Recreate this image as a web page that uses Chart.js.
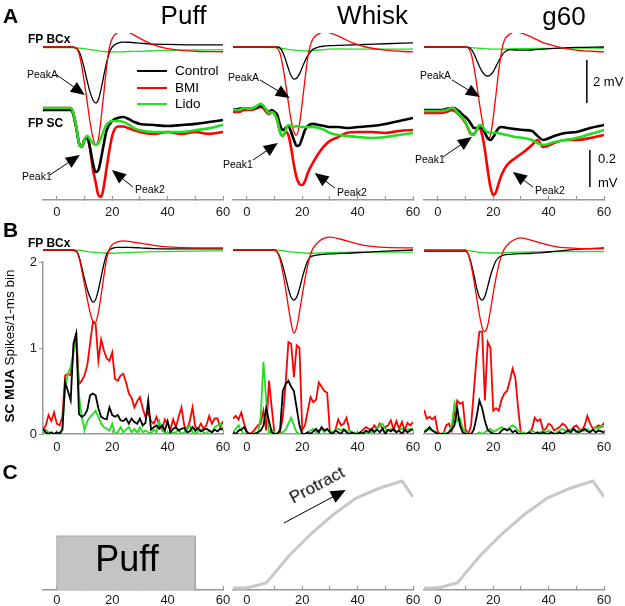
<!DOCTYPE html>
<html>
<head>
<meta charset="utf-8">
<script src="https://cdn.jsdelivr.net/npm/chart.js@4.4.1/dist/chart.umd.min.js"></script>
<style>
html, body { margin: 0; padding: 0; background: #fff; }
#fig { position: relative; width: 625px; height: 606px; overflow: hidden; font-family: Arial, "Liberation Sans", sans-serif; color: #000; }
#fig canvas { position: absolute; left: 0; top: 0; }
.t { position: absolute; white-space: nowrap; line-height: 1; }
.c { transform: translate(-50%, -50%); }
.l { transform: translateY(-50%); }
.b { font-weight: bold; }
.key { position: absolute; width: 30px; height: 2px; }
</style>
</head>
<body>
<div id="fig">
  <canvas id="a0" width="625" height="620"></canvas>
  <canvas id="a1" width="625" height="620"></canvas>
  <canvas id="a2" width="625" height="620"></canvas>
  <canvas id="b0" width="625" height="620"></canvas>
  <canvas id="b1" width="625" height="620"></canvas>
  <canvas id="b2" width="625" height="620"></canvas>
  <canvas id="c0" width="625" height="620"></canvas>
  <canvas id="c1" width="625" height="620"></canvas>
  <canvas id="c2" width="625" height="620"></canvas>

  <div class="t c b" style="left:10.5px;top:14.5px;font-size:21px">A</div>
  <div class="t c b" style="left:10.5px;top:228.5px;font-size:21px">B</div>
  <div class="t c b" style="left:10px;top:470.5px;font-size:21px">C</div>

  <div class="t c" style="left:183.5px;top:14.5px;font-size:26px">Puff</div>
  <div class="t c" style="left:372.5px;top:14.5px;font-size:26px">Whisk</div>
  <div class="t c" style="left:564px;top:16px;font-size:26px">g60</div>

  <div class="t l b" style="left:28px;top:39px;font-size:12px">FP BCx</div>
  <div class="t l b" style="left:28px;top:122.5px;font-size:12px">FP SC</div>
  <div class="t l b" style="left:28px;top:242.5px;font-size:12px">FP BCx</div>

  <div class="key" style="left:137px;top:70px;background:#000"></div>
  <div class="key" style="left:137px;top:86.5px;background:#ff0000"></div>
  <div class="key" style="left:137px;top:103px;background:#22dd22"></div>
  <div class="t l" style="left:175px;top:71px;font-size:13.5px">Control</div>
  <div class="t l" style="left:175px;top:87.5px;font-size:13.5px">BMI</div>
  <div class="t l" style="left:175px;top:104px;font-size:13.5px">Lido</div>

  <div class="t l" style="left:27px;top:73.5px;font-size:10.5px">PeakA</div>
  <div class="t l" style="left:228px;top:76.5px;font-size:10.5px">PeakA</div>
  <div class="t l" style="left:420px;top:75px;font-size:10.5px">PeakA</div>
  <div class="t l" style="left:22px;top:175.5px;font-size:10.5px">Peak1</div>
  <div class="t l" style="left:223px;top:163.5px;font-size:10.5px">Peak1</div>
  <div class="t l" style="left:415px;top:158.5px;font-size:10.5px">Peak1</div>
  <div class="t l" style="left:135px;top:188.5px;font-size:10.5px">Peak2</div>
  <div class="t l" style="left:337px;top:191.5px;font-size:10.5px">Peak2</div>
  <div class="t l" style="left:535px;top:190px;font-size:10.5px">Peak2</div>

  <div class="t l" style="left:593px;top:81px;font-size:13px">2 mV</div>
  <div class="t l" style="left:598px;top:157.5px;font-size:13px">0.2</div>
  <div class="t l" style="left:598px;top:182px;font-size:13px">mV</div>

  <div class="t" style="left:10px;top:346px;font-size:13.5px;transform:translate(-50%,-50%) rotate(-90deg)"><b>SC MUA</b> Spikes/1-ms bin</div>

  <div class="t c" style="left:127px;top:559px;font-size:36px">Puff</div>
  <div class="t" style="left:317px;top:485px;font-size:17px;transform:translate(-50%,-50%) rotate(-28deg)">Protract</div>
</div>

<script>
const FONT = 'Arial, "Liberation Sans", sans-serif';
const CTRL = '#000000', BMI = '#ff0000', LIDO = '#22dd22';

const xTicks = [0, 10, 20, 30, 40, 50, 60];
const xTickLabels = [0, 20, 40, 60];
const muaTicks = [0, 1, 2];

// A: FP BCx (mV, thin traces)
const puffBcxT = [-5, 0, 5, 7, 8, 9, 10, 11, 12, 13, 14, 15, 16, 17, 18, 19, 20, 22, 24, 26, 30, 35, 40, 50, 60];
const puffBcxCtrl = [0, 0, 0, -0.05, -0.2, -0.55, -1.05, -1.6, -2.1, -2.45, -2.6, -2.45, -1.95, -1.3, -0.7, -0.25, 0, 0.18, 0.23, 0.22, 0.18, 0.13, 0.12, 0.1, 0.1];
const puffBcxBmi = [0, 0, 0, -0.05, -0.3, -0.9, -1.7, -2.6, -3.5, -4.2, -4.55, -4.3, -3.3, -2.1, -0.9, 0, 0.4, 0.68, 0.74, 0.68, 0.4, 0.1, -0.08, -0.2, -0.22];
const puffBcxLido = [-0.03, -0.03, -0.03, -0.04, -0.05, -0.06, -0.08, -0.1, -0.12, -0.14, -0.16, -0.18, -0.2, -0.21, -0.22, -0.23, -0.23, -0.23, -0.22, -0.21, -0.2, -0.18, -0.16, -0.14, -0.12];

const whiskBcxT = [-5, 0, 5, 10, 11, 12, 13, 14, 15, 16, 17, 18, 19, 20, 21, 22, 23, 24, 26, 28, 30, 34, 38, 43, 50, 60];
const whiskBcxCtrl = [0, 0, 0, 0, 0, -0.05, -0.25, -0.6, -1.0, -1.35, -1.49, -1.45, -1.25, -0.95, -0.65, -0.4, -0.22, -0.1, 0, 0.04, 0.06, 0.08, 0.1, 0.12, 0.15, 0.19];
const whiskBcxBmi = [0, 0, 0, 0, -0.05, -0.3, -0.9, -1.7, -2.6, -3.4, -3.95, -4.1, -3.6, -2.6, -1.5, -0.5, 0.1, 0.4, 0.62, 0.7, 0.66, 0.45, 0.2, 0, -0.15, -0.23];
const whiskBcxLido = [-0.02, -0.02, -0.02, -0.03, -0.04, -0.05, -0.07, -0.09, -0.11, -0.13, -0.15, -0.16, -0.17, -0.18, -0.18, -0.18, -0.17, -0.16, -0.14, -0.12, -0.1, -0.09, -0.1, -0.1, -0.1, -0.1];

const g60BcxT = [-5, 0, 5, 10, 11, 12, 13, 14, 15, 16, 17, 18, 19, 20, 21, 22, 23, 24, 26, 28, 30, 34, 38, 42, 50, 60];
const g60BcxCtrl = [0, 0, 0, 0, -0.02, -0.1, -0.3, -0.6, -0.9, -1.15, -1.3, -1.35, -1.3, -1.15, -0.9, -0.65, -0.42, -0.25, -0.12, -0.14, -0.15, -0.14, -0.1, -0.06, -0.02, 0];
const g60BcxBmi = [0, 0, 0, 0, -0.05, -0.3, -0.9, -1.7, -2.6, -3.4, -4.0, -4.3, -4.1, -3.3, -2.2, -1.1, -0.2, 0.3, 0.6, 0.7, 0.66, 0.45, 0.2, 0.05, -0.15, -0.23];
const g60BcxLido = [0, 0, 0, -0.01, -0.02, -0.03, -0.04, -0.05, -0.06, -0.07, -0.08, -0.09, -0.1, -0.1, -0.1, -0.1, -0.1, -0.1, -0.09, -0.08, -0.08, -0.07, -0.06, -0.06, -0.05, -0.05];

// A: FP SC (mV, thick traces)
const puffScT = [-5, 0, 3, 5, 6, 7, 8, 9, 10, 11, 12, 13, 14, 15, 16, 17, 18, 20, 22, 24, 26, 28, 30, 35, 40, 45, 50, 55, 60];
const puffScCtrl = [-0.011, -0.011, -0.011, -0.011, -0.038, -0.108, -0.19, -0.21, -0.173, -0.162, -0.216, -0.297, -0.346, -0.335, -0.27, -0.19, -0.119, -0.07, -0.054, -0.049, -0.06, -0.076, -0.086, -0.092, -0.097, -0.092, -0.086, -0.076, -0.065];
const puffScBmi = [0, 0, 0, 0, -0.03, -0.1, -0.19, -0.21, -0.17, -0.16, -0.22, -0.33, -0.4, -0.47, -0.48, -0.42, -0.32, -0.15, -0.1, -0.1, -0.11, -0.12, -0.13, -0.14, -0.13, -0.14, -0.13, -0.14, -0.13];
const puffScLido = [0, 0, 0, 0, -0.03, -0.1, -0.19, -0.21, -0.17, -0.15, -0.17, -0.19, -0.2, -0.19, -0.16, -0.12, -0.09, -0.07, -0.07, -0.075, -0.09, -0.11, -0.12, -0.13, -0.13, -0.13, -0.12, -0.11, -0.09];

const whiskScT = [-5, -3, -1, 1, 3, 5, 6, 7, 8, 9, 10, 11, 12, 13, 14, 15, 16, 17, 18, 19, 20, 21, 22, 24, 26, 28, 30, 33, 36, 40, 45, 50, 55, 60];
const whiskScCtrl = [-0.011, -0.005, 0, -0.005, 0, 0.011, 0.005, -0.011, -0.022, -0.011, -0.022, -0.038, -0.092, -0.119, -0.108, -0.097, -0.13, -0.173, -0.205, -0.2, -0.162, -0.119, -0.097, -0.086, -0.092, -0.097, -0.103, -0.103, -0.108, -0.103, -0.097, -0.086, -0.07, -0.054];
const whiskScBmi = [-0.022, -0.022, -0.011, -0.011, -0.005, 0.005, 0, -0.022, -0.032, -0.022, -0.032, -0.065, -0.13, -0.151, -0.13, -0.146, -0.216, -0.308, -0.378, -0.411, -0.416, -0.395, -0.351, -0.292, -0.243, -0.205, -0.178, -0.157, -0.135, -0.13, -0.13, -0.135, -0.124, -0.119];
const whiskScLido = [-0.011, -0.011, 0, -0.005, 0.005, 0.022, 0.011, -0.011, -0.027, -0.022, -0.032, -0.065, -0.13, -0.151, -0.119, -0.092, -0.097, -0.103, -0.097, -0.103, -0.103, -0.103, -0.103, -0.103, -0.108, -0.119, -0.135, -0.146, -0.151, -0.157, -0.162, -0.157, -0.146, -0.135];

const g60ScT = [-5, -2, 1, 3, 5, 6, 7, 8, 9, 10, 11, 12, 13, 14, 15, 16, 17, 18, 19, 20, 21, 22, 23, 25, 28, 31, 34, 36, 38, 42, 46, 50, 55, 60];
const g60ScCtrl = [-0.011, -0.011, -0.011, -0.005, 0, 0, -0.011, -0.022, -0.038, -0.049, -0.065, -0.086, -0.108, -0.108, -0.103, -0.108, -0.135, -0.162, -0.173, -0.157, -0.13, -0.108, -0.103, -0.108, -0.114, -0.119, -0.124, -0.151, -0.173, -0.151, -0.135, -0.13, -0.108, -0.092];
const g60ScBmi = [-0.027, -0.027, -0.027, -0.022, -0.011, -0.016, -0.027, -0.043, -0.059, -0.081, -0.114, -0.141, -0.141, -0.119, -0.108, -0.146, -0.227, -0.335, -0.427, -0.47, -0.454, -0.405, -0.362, -0.308, -0.27, -0.238, -0.2, -0.173, -0.211, -0.189, -0.173, -0.173, -0.162, -0.146];
const g60ScLido = [-0.016, -0.016, -0.016, -0.011, 0, -0.005, -0.022, -0.038, -0.054, -0.076, -0.108, -0.141, -0.146, -0.119, -0.092, -0.097, -0.119, -0.13, -0.135, -0.135, -0.135, -0.135, -0.141, -0.146, -0.157, -0.162, -0.173, -0.189, -0.2, -0.184, -0.173, -0.162, -0.141, -0.119];

// B: FP BCx overlay (mV)
const puffOvT = [-5, 0, 5, 7, 8, 9, 10, 11, 12, 13, 14, 15, 16, 17, 18, 19, 20, 22, 24, 26, 30, 35, 40, 50, 60];
const puffOvCtrl = [0, 0, 0, -0.05, -0.3, -0.8, -1.35, -1.85, -2.2, -2.42, -2.3, -1.85, -1.25, -0.65, -0.2, 0, 0.08, 0.12, 0.12, 0.12, 0.1, 0.06, 0.05, 0.05, 0.05];
const puffOvBmi = [0, 0, 0, -0.05, -0.35, -0.95, -1.6, -2.3, -2.9, -3.3, -3.35, -2.9, -2.1, -1.2, -0.4, 0.05, 0.25, 0.38, 0.42, 0.4, 0.32, 0.22, 0.15, 0.1, 0.1];
const puffOvLido = [0, 0, 0, -0.01, -0.02, -0.03, -0.05, -0.07, -0.09, -0.1, -0.11, -0.12, -0.13, -0.14, -0.14, -0.15, -0.15, -0.14, -0.13, -0.12, -0.1, -0.08, -0.07, -0.05, -0.04];

const whiskOvT = [-5, 0, 5, 10, 11, 12, 13, 14, 15, 16, 17, 18, 19, 20, 21, 22, 23, 24, 26, 28, 30, 34, 38, 43, 50, 60];
const whiskOvCtrl = [0, 0, 0, 0, -0.1, -0.35, -0.75, -1.25, -1.8, -2.2, -2.33, -2.2, -1.8, -1.3, -0.85, -0.5, -0.33, -0.27, -0.22, -0.2, -0.18, -0.16, -0.14, -0.1, -0.05, 0];
const whiskOvBmi = [0, 0, 0, 0, -0.1, -0.45, -1.05, -1.8, -2.65, -3.4, -3.86, -3.6, -2.9, -2.1, -1.35, -0.7, -0.2, 0.1, 0.4, 0.55, 0.6, 0.5, 0.35, 0.2, 0.12, 0.1];
const whiskOvLido = [0, 0, 0, 0, -0.01, -0.02, -0.03, -0.05, -0.07, -0.09, -0.1, -0.11, -0.12, -0.13, -0.14, -0.15, -0.15, -0.15, -0.14, -0.13, -0.12, -0.11, -0.1, -0.1, -0.1, -0.1];

const g60OvT = [-5, 0, 5, 10, 11, 12, 13, 14, 15, 16, 17, 18, 19, 20, 21, 22, 23, 24, 26, 28, 30, 34, 38, 43, 50, 60];
const g60OvCtrl = [-0.05, -0.05, -0.05, -0.05, -0.2, -0.6, -1.15, -1.75, -2.2, -2.33, -2.15, -1.7, -1.2, -0.8, -0.5, -0.35, -0.27, -0.23, -0.2, -0.18, -0.17, -0.15, -0.12, -0.05, 0.03, 0.1];
const g60OvBmi = [0, 0, 0, 0, -0.2, -0.7, -1.4, -2.2, -3.0, -3.6, -3.8, -3.5, -2.8, -2.0, -1.3, -0.7, -0.25, 0.05, 0.35, 0.5, 0.56, 0.45, 0.3, 0.15, 0.08, 0.05];
const g60OvLido = [-0.02, -0.02, -0.02, -0.02, -0.03, -0.05, -0.07, -0.09, -0.11, -0.12, -0.13, -0.14, -0.14, -0.14, -0.14, -0.14, -0.13, -0.12, -0.11, -0.1, -0.1, -0.09, -0.08, -0.08, -0.08, -0.08];

// B: SC MUA, spikes per 1-ms bin
const binT = [-5, -4, -3, -2, -1, 0, 1, 2, 3, 4, 5, 6, 7, 8, 9, 10, 11, 12, 13, 14, 15, 16, 17, 18, 19, 20, 21, 22, 23, 24, 25, 26, 27, 28, 29, 30, 31, 32, 33, 34, 35, 36, 37, 38, 39, 40, 41, 42, 43, 44, 45, 46, 47, 48, 49, 50, 51, 52, 53, 54, 55, 56, 57, 58, 59, 60];
const puffMuaCtrl = [0.06, 0.02, 0, 0.02, 0, 0.02, 0, 0.05, 0.6, 0.5, 0.39, 1.05, 1.17, 0.23, 0.2, 0.22, 0.28, 0.45, 0.47, 0.45, 0.3, 0.2, 0.18, 0.17, 0.31, 0.22, 0.2, 0.22, 0.16, 0.15, 0.18, 0.12, 0.18, 0.14, 0.12, 0.18, 0.1, 0.13, 0.39, 0.05, 0.08, 0.1, 0.06, 0.1, 0.04, 0.15, 0.02, 0.06, 0.08, 0.04, 0.06, 0.07, 0.02, 0.03, 0.08, 0.04, 0.07, 0.03, 0.05, 0.06, 0.04, 0.02, 0.05, 0.03, 0.06, 0.05];
const puffMuaBmi = [0.05, 0.1, 0.22, 0.15, 0.25, 0.12, 0.1, 0.2, 0.68, 0.7, 0.68, 0.95, 1.17, 0.58, 0.62, 0.68, 0.8, 1.05, 1.3, 1.28, 0.85, 1.1, 0.97, 0.88, 0.85, 0.95, 0.64, 0.62, 0.68, 0.7, 0.6, 0.47, 0.42, 0.31, 0.38, 0.43, 0.3, 0.2, 0.25, 0.15, 0.12, 0.2, 0.1, 0.05, 0.17, 0.12, 0.05, 0.17, 0.08, 0.2, 0.31, 0.1, 0.05, 0.15, 0.31, 0.08, 0.06, 0.12, 0.06, 0.1, 0.21, 0.12, 0.18, 0.18, 0.08, 0.15];
const puffMuaLido = [0, 0.05, 0.02, 0, 0, 0, 0.02, 0.05, 0.55, 0.7, 0.78, 0.95, 1.1, 0.45, 0.2, 0.05, 0.15, 0.2, 0.23, 0.27, 0.2, 0.12, 0.08, 0.06, 0.04, 0.12, 0, 0.02, 0.08, 0.02, 0.05, 0.08, 0.02, 0.06, 0.02, 0.08, 0.02, 0.04, 0.02, 0.01, 0.05, 0.02, 0.15, 0.04, 0.02, 0, 0.03, 0.01, 0.02, 0.05, 0, 0.02, 0.06, 0.1, 0.02, 0, 0.03, 0.05, 0.02, 0, 0.04, 0.02, 0.08, 0.1, 0.12, 0.05];

const whiskMuaCtrl = [0.02, 0, 0.04, 0.05, 0.08, 0.02, 0, 0, 0, 0.02, 0.04, 0.1, 0.3, 0.15, 0.02, 0, 0, 0.05, 0.5, 0.58, 0.62, 0.55, 0.5, 0.3, 0.1, 0, 0, 0.02, 0, 0.03, 0.06, 0.02, 0.08, 0.04, 0.06, 0.02, 0, 0.04, 0.02, 0, 0.05, 0.02, 0, 0.02, 0, 0, 0.02, 0, 0.04, 0.02, 0.06, 0.02, 0.05, 0.02, 0.06, 0, 0.05, 0.03, 0.06, 0.02, 0.04, 0, 0.05, 0.02, 0.04, 0.06];
const whiskMuaBmi = [0.18, 0.21, 0.17, 0.25, 0.12, 0.03, 0, 0.02, 0.06, 0.1, 0.12, 0.27, 0.04, 0.62, 0.3, 0, 0, 0.02, 0.2, 0.58, 1.07, 1.05, 0.66, 1.03, 1.0, 0.05, 0.1, 0.27, 0.43, 0.37, 0.4, 0.6, 0.55, 0.5, 0.48, 0.02, 0, 0.05, 0.17, 0.1, 0.12, 0.19, 0.05, 0, 0, 0, 0.02, 0.05, 0.08, 0.06, 0.04, 0.1, 0.06, 0.12, 0.06, 0.08, 0.1, 0.16, 0.05, 0.15, 0.06, 0.14, 0.04, 0.13, 0.1, 0.14];
const whiskMuaLido = [0.02, 0.06, 0.1, 0.04, 0, 0, 0, 0, 0.02, 0, 0.2, 0.84, 0.39, 0, 0.05, 0.02, 0, 0, 0.02, 0.05, 0.12, 0.19, 0.1, 0.02, 0, 0, 0, 0.02, 0.04, 0.06, 0.02, 0.04, 0.06, 0.02, 0.05, 0.04, 0.02, 0.05, 0.06, 0.04, 0.06, 0.03, 0.05, 0, 0.02, 0, 0, 0.02, 0, 0.03, 0.02, 0.04, 0.06, 0.1, 0.12, 0.06, 0.04, 0.06, 0.04, 0.02, 0.05, 0.06, 0.04, 0.05, 0.06, 0.04];

const g60MuaCtrl = [0.02, 0.04, 0.08, 0.04, 0.02, 0, 0, 0, 0, 0.02, 0.05, 0.1, 0.3, 0.1, 0.02, 0, 0, 0, 0.05, 0.2, 0.39, 0.3, 0.15, 0.05, 0.02, 0, 0, 0, 0.04, 0.06, 0.04, 0.06, 0.02, 0.04, 0, 0, 0, 0, 0.02, 0, 0, 0.02, 0, 0.02, 0, 0, 0.02, 0, 0, 0.02, 0, 0.02, 0.04, 0.02, 0.06, 0.03, 0.02, 0.04, 0.06, 0.03, 0.02, 0.05, 0.02, 0.04, 0.03, 0.02];
const g60MuaBmi = [0.28, 0.18, 0.2, 0.17, 0.2, 0.02, 0, 0, 0.1, 0.12, 0.04, 0.25, 0.39, 0.35, 0.37, 0.05, 0, 0.1, 0.5, 0.9, 1.19, 1.19, 0.39, 1.07, 1.0, 0.27, 0.3, 0.27, 0.4, 0.47, 0.5, 0.62, 0.76, 0.65, 0.3, 0, 0, 0, 0.02, 0.06, 0.19, 0.15, 0.17, 0.04, 0.06, 0.12, 0.1, 0.04, 0.06, 0.08, 0.12, 0.1, 0.05, 0.04, 0.08, 0.1, 0.06, 0.04, 0.1, 0.21, 0.12, 0.06, 0.08, 0.1, 0.08, 0.13];
const g60MuaLido = [0.03, 0.06, 0.05, 0.04, 0.03, 0, 0, 0.02, 0, 0.02, 0.1, 0.35, 0.15, 0.18, 0.06, 0.02, 0, 0, 0, 0, 0.02, 0, 0.02, 0.04, 0.06, 0.02, 0.04, 0.06, 0.08, 0.06, 0.05, 0.08, 0.1, 0.08, 0.04, 0.02, 0.02, 0, 0.02, 0.04, 0.02, 0, 0.02, 0.04, 0.02, 0.04, 0.02, 0, 0.02, 0.04, 0.06, 0.04, 0.02, 0.04, 0.06, 0.02, 0.05, 0.03, 0.04, 0.06, 0.03, 0.05, 0.08, 0.06, 0.1, 0.08];

// C: stimulus
const puffBoxT = [0, 0, 50, 50];
const puffBoxLevel = [0, 54, 54, 0];
const whiskPosT = [-5, 0, 7, 15.5, 23.5, 31, 39.5, 48, 56, 60];
const whiskPos = [2, 2, 7, 35, 57, 75, 92, 102, 109, 93];

// scale bars (g60 panel of A)
const barBcxT = [53.8, 53.8], barBcx = [-0.6, -2.6];
const barScT = [54.9, 54.9], barSc = [-0.227, -0.427];

// annotation arrows, [t, BCx mV] for A and [t, position] for C
const peakArrows = [
  [{ from: [0, -1.3], to: [10.1, -2.23] }, { from: [-2.5, -5.95], to: [8.3, -5.02] }, { from: [27.4, -6.51], to: [19.9, -5.72] }],
  [{ from: [4.7, -1.53], to: [15.5, -2.37] }, { from: [2.2, -5.26], to: [11.2, -4.47] }, { from: [31.8, -6.56], to: [24.5, -5.86] }],
  [{ from: [5.1, -1.53], to: [15.2, -2.33] }, { from: [1.8, -5.12], to: [12.3, -4.19] }, { from: [34.3, -6.51], to: [27.1, -5.81] }]
];
const protractArrow = [{ from: [13.4, 67], to: [35.7, 100] }];

const cols = [{ left: 43, right: 402 }, { left: 233, right: 212 }, { left: 424, right: 21 }];

const arrowPlugin = {
  id: 'arrows',
  afterDatasetsDraw(chart, args, opts) {
    const items = opts.items || [];
    if (!items.length) return;
    const ctx = chart.ctx, xs = chart.scales.x, ys = chart.scales[opts.axis];
    items.forEach(a => {
      const x1 = xs.getPixelForValue(a.from[0]), y1 = ys.getPixelForValue(a.from[1]);
      const x2 = xs.getPixelForValue(a.to[0]), y2 = ys.getPixelForValue(a.to[1]);
      const ang = Math.atan2(y2 - y1, x2 - x1), L = opts.head, W = opts.half;
      const c = Math.cos(ang), s = Math.sin(ang);
      ctx.save();
      ctx.strokeStyle = '#000'; ctx.fillStyle = '#000'; ctx.lineWidth = 1;
      ctx.beginPath(); ctx.moveTo(x1, y1); ctx.lineTo(x2 - L * 0.8 * c, y2 - L * 0.8 * s); ctx.stroke();
      ctx.beginPath();
      ctx.moveTo(x2, y2);
      ctx.lineTo(x2 - L * c + W * s, y2 - L * s - W * c);
      ctx.lineTo(x2 - L * c - W * s, y2 - L * s + W * c);
      ctx.closePath(); ctx.fill();
      ctx.restore();
    });
  }
};

const pts = (t, v) => t.map((x, i) => ({ x, y: v[i] }));

function trace(t, v, color, width, axis, extra) {
  return Object.assign({
    data: pts(t, v), borderColor: color, borderWidth: width, pointRadius: 0,
    fill: false, yAxisID: axis, cubicInterpolationMode: 'monotone'
  }, extra || {});
}

function xScale(pad) {
  return {
    type: 'linear', min: -5, max: 60,
    afterBuildTicks: s => { s.ticks = xTicks.map(v => ({ value: v })); },
    afterFit: s => { s.height = 22; },
    ticks: {
      autoSkip: false, maxRotation: 0, padding: pad, color: '#1a1a1a',
      font: { size: 13, family: FONT },
      callback: v => xTickLabels.includes(v) ? String(v) : ''
    },
    grid: { drawOnChartArea: false, tickLength: -4, color: '#999', tickWidth: 1.2 },
    border: { color: '#999', width: 1.5 }
  };
}

const hidden = (min, max) => ({ display: false, min, max });

function panel(id, padding, scales, datasets, arrows) {
  new Chart(document.getElementById(id), {
    type: 'line',
    data: { datasets },
    options: {
      responsive: false, animation: false, events: [], devicePixelRatio: 1,
      layout: { autoPadding: false, padding },
      scales,
      plugins: { legend: { display: false }, tooltip: { enabled: false }, arrows: arrows || { items: [] } }
    },
    plugins: [arrowPlugin]
  });
}

// row A
const bcxSets = [[puffBcxT, puffBcxCtrl, puffBcxBmi, puffBcxLido], [whiskBcxT, whiskBcxCtrl, whiskBcxBmi, whiskBcxLido], [g60BcxT, g60BcxCtrl, g60BcxBmi, g60BcxLido]];
const scSets = [[puffScT, puffScCtrl, puffScBmi, puffScLido], [whiskScT, whiskScCtrl, whiskScBmi, whiskScLido], [g60ScT, g60ScCtrl, g60ScBmi, g60ScLido]];
['a0', 'a1', 'a2'].forEach((id, i) => {
  const [bt, bc, bb, bl] = bcxSets[i];
  const [st, sc, sb, sl] = scSets[i];
  const ds = [
    trace(st, sl, LIDO, 2.6, 'ys'),
    trace(st, sc, CTRL, 2.6, 'ys'),
    trace(st, sb, BMI, 2.6, 'ys'),
    trace(bt, bb, BMI, 1.3, 'yb'),
    trace(bt, bc, CTRL, 1.3, 'yb'),
    trace(bt, bl, LIDO, 1.3, 'yb')
  ];
  if (i === 2) {
    ds.push(trace(barBcxT, barBcx, '#000', 1.5, 'yb'));
    ds.push(trace(barScT, barSc, '#000', 1.5, 'ys'));
  }
  panel(id, { left: cols[i].left, right: cols[i].right, top: 33, bottom: 398 },
    { x: xScale(8.5), yb: hidden(-7.116, 0.651), ys: hidden(-0.497, 0.405) },
    ds, { axis: 'yb', head: 14, half: 6, items: peakArrows[i] });
});

// row B
const ovSets = [[puffOvT, puffOvCtrl, puffOvBmi, puffOvLido], [whiskOvT, whiskOvCtrl, whiskOvBmi, whiskOvLido], [g60OvT, g60OvCtrl, g60OvBmi, g60OvLido]];
const muaSets = [[puffMuaCtrl, puffMuaBmi, puffMuaLido], [whiskMuaCtrl, whiskMuaBmi, whiskMuaLido], [g60MuaCtrl, g60MuaBmi, g60MuaLido]];
['b0', 'b1', 'b2'].forEach((id, i) => {
  const [ot, oc, ob, ol] = ovSets[i];
  const [mc, mb, ml] = muaSets[i];
  const jag = { cubicInterpolationMode: 'default', tension: 0 };
  const ds = [
    trace(ot, ob, BMI, 1.3, 'yb', { clip: false }),
    trace(ot, oc, CTRL, 1.3, 'yb', { clip: false }),
    trace(ot, ol, LIDO, 1.3, 'yb', { clip: false }),
    trace(binT, mc, CTRL, 1.8, 'y', jag),
    trace(binT, ml, LIDO, 1.8, 'y', jag),
    trace(binT, mb, BMI, 1.8, 'y', jag)
  ];
  const yMua = i === 0 ? {
    position: 'left', min: 0, max: 2,
    afterBuildTicks: s => { s.ticks = muaTicks.map(v => ({ value: v })); },
    afterFit: s => { s.width = 30; },
    ticks: { padding: 2, color: '#1a1a1a', font: { size: 13, family: FONT } },
    grid: { drawOnChartArea: false, tickLength: 4, color: '#999' },
    border: { color: '#999', width: 1.5 }
  } : hidden(0, 2);
  panel(id, { left: i === 0 ? 13 : cols[i].left, right: cols[i].right, top: 262, bottom: 164 },
    { x: xScale(9.5), y: yMua, yb: hidden(-8.558, -0.558) }, ds);
});

// row C
panel('c0', { left: cols[0].left, right: cols[0].right, top: 470, bottom: 8 },
  { x: xScale(6.5), y: hidden(0, 120) },
  [trace(puffBoxT, puffBoxLevel, '#a8a8a8', 1, 'y', { fill: 'origin', backgroundColor: '#c4c4c4', cubicInterpolationMode: 'default', tension: 0 })]);
panel('c1', { left: cols[1].left, right: cols[1].right, top: 470, bottom: 8 },
  { x: xScale(6.5), y: hidden(0, 120) },
  [trace(whiskPosT, whiskPos, '#c8c8c8', 3, 'y', { cubicInterpolationMode: 'default', tension: 0 })],
  { axis: 'y', head: 15, half: 6.5, items: protractArrow });
panel('c2', { left: cols[2].left, right: cols[2].right, top: 470, bottom: 8 },
  { x: xScale(6.5), y: hidden(0, 120) },
  [trace(whiskPosT, whiskPos, '#c8c8c8', 3, 'y', { cubicInterpolationMode: 'default', tension: 0 })]);
</script>
</body>
</html>
